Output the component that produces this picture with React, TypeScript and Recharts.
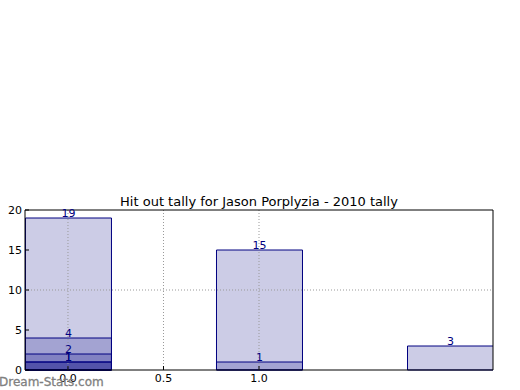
import React from "react";
import { BarChart, Bar, XAxis, YAxis, ReferenceLine, LabelList } from "recharts";

// bar positions (matplotlib-style numeric x)
const positions = [0, 1, 2];
// overlapping series, drawn back to front
const tallyA = [19, 15, 3];
const tallyB = [4, 1, null];
const tallyC = [2, null, null];
const tallyD = [1, null, null];
const tallyE = [1, null, null];

const yTicks = [0, 5, 10, 15, 20];
const xTicks = [0, 0.5, 1];

const series = [tallyA, tallyB, tallyC, tallyD, tallyE];
const data = positions.map((x, i) => {
  const row: any = { x };
  series.forEach((s, j) => {
    row["s" + j] = s[i];
  });
  return row;
});

const FONT = "'DejaVu Sans', sans-serif";
const NAVY = "#000080";

export default function App() {
  return (
    <div style={{ position: "absolute", left: 0, top: 0, width: 520, height: 390, background: "#fff", fontFamily: FONT }}>
      <BarChart
        width={520}
        height={390}
        data={data}
        margin={{ top: 210, right: 0, bottom: 0, left: 0 }}
        barGap={-86}
      >
        <XAxis
          xAxisId="b"
          dataKey="x"
          type="number"
          domain={[-0.225, 2.225]}
          ticks={xTicks}
          tickFormatter={(v: number) => v.toFixed(1)}
          height={20}
          allowDataOverflow
          stroke="#000"
          tickSize={-4}
          tickMargin={8}
          tick={{ fill: "#000", fontSize: 11, fontFamily: FONT }}
        />
        <YAxis
          yAxisId="l"
          domain={[0, 20]}
          ticks={yTicks}
          width={25}
          stroke="#000"
          tickSize={-4}
          tickMargin={7}
          tick={{ fill: "#000", fontSize: 11, fontFamily: FONT }}
        />
        <YAxis
          yAxisId="r"
          orientation="right"
          domain={[0, 20]}
          ticks={yTicks}
          width={27}
          stroke="#000"
          tickSize={-4}
          tick={false}
        />
        {series.map((_, j) => (
          <Bar
            key={j}
            dataKey={"s" + j}
            xAxisId="b"
            yAxisId="l"
            barSize={86}
            fill={NAVY}
            fillOpacity={0.2}
            stroke={NAVY}
            strokeWidth={1}
            isAnimationActive={false}
          >
            <LabelList
              dataKey={"s" + j}
              position="top"
              offset={1}
              fill={NAVY}
              fontSize={11}
              fontFamily={FONT}
            />
          </Bar>
        ))}
        {xTicks.map((t) => (
          <ReferenceLine key={"v" + t} x={t} xAxisId="b" yAxisId="l" stroke="#999" strokeDasharray="1 2" />
        ))}
        <ReferenceLine y={10} xAxisId="b" yAxisId="l" stroke="#999" strokeDasharray="1 2" />
        <ReferenceLine y={20} xAxisId="b" yAxisId="l" stroke="#000" />
      </BarChart>
      <div
        style={{
          position: "absolute",
          left: 259,
          top: 194,
          transform: "translateX(-50%)",
          fontSize: 13,
          color: "#000",
          whiteSpace: "nowrap",
        }}
      >
        Hit out tally for Jason Porplyzia - 2010 tally
      </div>
      <div
        style={{
          position: "absolute",
          left: -1,
          top: 375,
          fontSize: 12,
          color: "#808080",
          WebkitTextStroke: "0.3px #808080",
          whiteSpace: "nowrap",
        }}
      >
        Dream-Stats.com
      </div>
    </div>
  );
}
